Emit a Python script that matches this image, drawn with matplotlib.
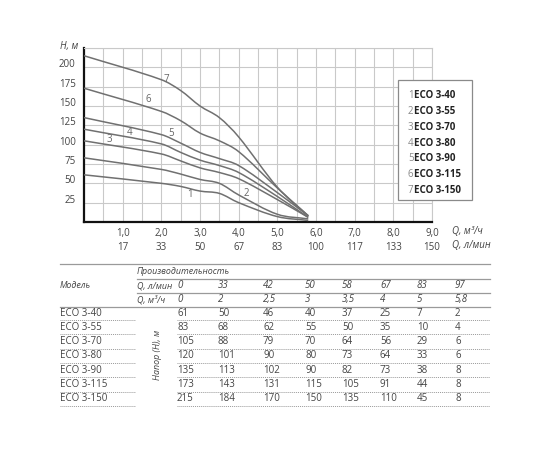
import matplotlib
matplotlib.use('Agg')
import matplotlib.pyplot as plt
from matplotlib.path import Path
from matplotlib.patches import PathPatch
import numpy as np

plt.rcParams['font.family'] = ['Open Sans', 'DejaVu Sans']

flow_m3h = [0, 2, 2.5, 3, 3.5, 4, 5, 5.8]
flow_lmin = [0, 33, 42, 50, 58, 67, 83, 97]
flow_m3h_text = ['0', '2', '2,5', '3', '3,5', '4', '5', '5,8']
models = ['ECO 3-40', 'ECO 3-55', 'ECO 3-70', 'ECO 3-80',
          'ECO 3-90', 'ECO 3-115', 'ECO 3-150']
head = [
    [61, 50, 46, 40, 37, 25, 7, 2],
    [83, 68, 62, 55, 50, 35, 10, 4],
    [105, 88, 79, 70, 64, 56, 29, 6],
    [120, 101, 90, 80, 73, 64, 33, 6],
    [135, 113, 102, 90, 82, 73, 38, 8],
    [173, 143, 131, 115, 105, 91, 44, 8],
    [215, 184, 170, 150, 135, 110, 45, 8],
]
curve_label_pos = [(2.74, 35), (4.21, 37.5), (0.66, 107), (1.18, 116),
                   (2.25, 115), (1.65, 158), (2.13, 184.5)]
x_ticks = [1, 2, 3, 4, 5, 6, 7, 8, 9]
x_tick_m3h = ['1,0', '2,0', '3,0', '4,0', '5,0', '6,0', '7,0', '8,0', '9,0']
x_tick_lmin = ['17', '33', '50', '67', '83', '100', '117', '133', '150']
y_ticks = [25, 50, 75, 100, 125, 150, 175, 200]

GRID = '#c9c9c9'
CURVE = '#707070'
TXT = '#444444'
fs = 7
fs_it = 6.4


def smooth_path(x, y):
    """Cubic bezier path through the points, central-difference tangents."""
    x = np.asarray(x, float)
    y = np.asarray(y, float)
    h = np.diff(x)
    d = np.diff(y) / h
    m = np.empty_like(y)
    m[1:-1] = (y[2:] - y[:-2]) / (x[2:] - x[:-2])
    m[0] = d[0]
    m[-1] = d[-1]
    verts = [(x[0], y[0])]
    codes = [Path.MOVETO]
    for i in range(len(h)):
        verts += [(x[i] + h[i] / 3, y[i] + m[i] * h[i] / 3),
                  (x[i + 1] - h[i] / 3, y[i + 1] - m[i + 1] * h[i] / 3),
                  (x[i + 1], y[i + 1])]
        codes += [Path.CURVE4] * 3
    return Path(verts, codes)


fig = plt.figure(figsize=(5.5, 4.5), dpi=100)
fig.patch.set_facecolor('white')

# --- chart ---
ax = fig.add_axes([84 / 550, 1 - 222 / 450, 348 / 550, 174 / 450])
ax.set_xlim(0, 9)
ax.set_ylim(0, 225)
ax.set_xticks(x_ticks)
ax.set_xticklabels([f'{a}\n{b}' for a, b in zip(x_tick_m3h, x_tick_lmin)],
                   fontsize=fs, color=TXT, linespacing=1.45)
ax.set_xticks(np.arange(0.5, 9, 1.0), minor=True)
ax.set_yticks(y_ticks)
ax.set_yticklabels([str(v) for v in y_ticks], fontsize=fs, color=TXT)
for lab in ax.get_yticklabels():
    lab.set_va('baseline')
ax.set_yticks([225], minor=True)
ax.tick_params(which='both', length=0)
ax.tick_params(axis='x', pad=4)
ax.tick_params(axis='y', pad=6)
ax.grid(True, which='both', color=GRID, linewidth=0.8)
ax.set_axisbelow(True)
for s in ['top', 'right']:
    ax.spines[s].set_color(GRID)
    ax.spines[s].set_linewidth(0.8)
for s in ['left', 'bottom']:
    ax.spines[s].set_color('#111111')
    ax.spines[s].set_linewidth(1.6)

for i, h in enumerate(head):
    ax.add_patch(PathPatch(smooth_path(flow_m3h, h), facecolor='none',
                           edgecolor=CURVE, linewidth=1.1, zorder=3))
    lx, ly = curve_label_pos[i]
    ax.text(lx, ly, str(i + 1), fontsize=fs, color='#666666',
            ha='center', va='center', zorder=4)

# --- overlay in pixel coordinates for labels, legend box and table ---
ov = fig.add_axes([0, 0, 1, 1])
ov.set_xlim(0, 550)
ov.set_ylim(450, 0)
ov.axis('off')
ov.patch.set_alpha(0)

ov.text(60, 46, 'H, м', fontsize=fs, color=TXT, style='italic', va='center')
ov.text(452, 232, 'Q, м³/ч', fontsize=fs, color=TXT, style='italic', va='center')
ov.text(452, 245.5, 'Q, л/мин', fontsize=fs, color=TXT, style='italic', va='center')

# legend box
ov.add_patch(plt.Rectangle((398, 80), 74, 120, facecolor='white',
                           edgecolor='#8a8a8a', linewidth=0.9, zorder=5))
for i, m in enumerate(models):
    y = 95.7 + i * 15.8
    ov.text(408, y, str(i + 1), fontsize=fs, color='#888888', va='center', zorder=6)
    ov.text(414.5, y, m, fontsize=fs, color='#222222', fontweight='bold',
            va='center', zorder=6)

# table
LINE = '#9a9a9a'
col_x = [177, 218, 263, 305, 342, 380, 417, 455]
ov.plot([60, 490], [264, 264], color=LINE, lw=0.9)
ov.plot([137, 490], [278.5, 278.5], color=LINE, lw=0.9)
ov.plot([137, 490], [292.5, 292.5], color=LINE, lw=0.9)
ov.plot([60, 490], [306.5, 306.5], color=LINE, lw=0.9)

ov.text(137, 272, 'Производительность', fontsize=fs_it, color=TXT, style='italic', va='center')
ov.text(60, 285.7, 'Модель', fontsize=fs_it, color=TXT, style='italic', va='center')
ov.text(137, 285.7, 'Q, л/мин', fontsize=fs_it, color=TXT, style='italic', va='center')
ov.text(137, 299.5, 'Q, м³/ч', fontsize=fs_it, color=TXT, style='italic', va='center')
for x, a, b in zip(col_x, flow_lmin, flow_m3h_text):
    ov.text(x, 285.7, str(a), fontsize=fs, color=TXT, style='italic', va='center')
    ov.text(x, 299.5, b, fontsize=fs, color=TXT, style='italic', va='center')

for i, (m, h) in enumerate(zip(models, head)):
    y = 313 + i * 14.3
    ov.text(60, y, m, fontsize=fs, color=TXT, va='center')
    for x, v in zip(col_x, h):
        ov.text(x, y, str(v), fontsize=fs, color=TXT, va='center')
    ov.plot([60, 135], [y + 7, y + 7], color=LINE, lw=0.7, ls=(0, (1, 1)))
    ov.plot([177, 490], [y + 7, y + 7], color=LINE, lw=0.7, ls=(0, (1, 1)))

ov.text(157, 355, 'Напор (H), м', fontsize=fs_it, color=TXT, style='italic',
        rotation=90, ha='center', va='center')

fig.savefig('out.png', dpi=100, facecolor='white')
